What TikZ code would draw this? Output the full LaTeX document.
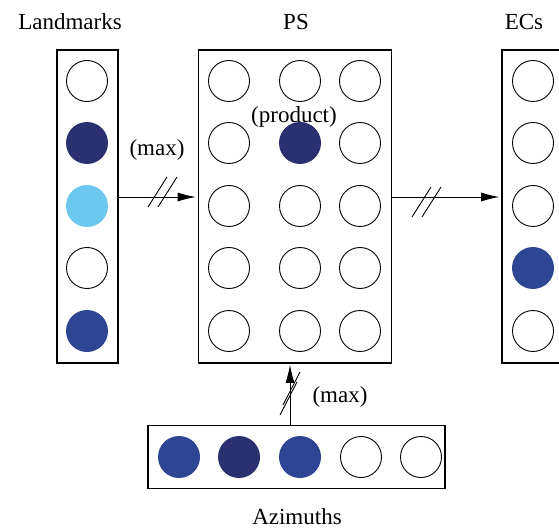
\documentclass[tikz,border=0pt]{standalone}
\usepackage{fontspec}
\setmainfont{Liberation Serif}
\usetikzlibrary{arrows.meta}
\definecolor{navy}{HTML}{2B3070}
\definecolor{midblue}{HTML}{2E4593}
\definecolor{lightblue}{HTML}{6CC8EE}
\tikzset{
  unit/.style={circle,draw=black,line width=0.9pt,minimum size=41pt,inner sep=0pt},
  fillnavy/.style={unit,draw=none,fill=navy,minimum size=42pt},
  fillmid/.style={unit,draw=none,fill=midblue,minimum size=42pt},
  filllight/.style={unit,draw=none,fill=lightblue,minimum size=42pt},
  panel/.style={draw=black,line width=1.6pt,inner sep=0pt},
  lbl/.style={font=\fontsize{23}{27}\selectfont,inner sep=0pt},
  conn/.style={line width=0.9pt,-{Latex[length=18pt,width=9pt]}},
  slash/.style={line width=0.9pt}
}
\begin{document}
\begin{tikzpicture}[x=1pt,y=-1pt]
\clip (0,0) rectangle (559,529);
\fill[white] (0,0) rectangle (559,529);
% panels
\node[panel,minimum width=61pt,minimum height=313pt] (lm) at (87.5,206.5) {};
\node[panel,minimum width=193pt,minimum height=313pt] (ps) at (295,206.5) {};
\node[panel,minimum width=80pt,minimum height=313pt] (ec) at (542,206.5) {};
\node[panel,minimum width=297pt,minimum height=63pt] (az) at (296.5,457) {};
% landmarks
\node[unit] (l1) at (87,81) {};
\node[fillnavy] (l2) at (87,143) {};
\node[filllight] (l3) at (87,206) {};
\node[unit] (l4) at (87,268) {};
\node[fillmid] (l5) at (87,331) {};
% PS grid
\foreach \r/\y in {1/81,2/143,3/206,4/268,5/331}{
  \node[unit] (p\r a) at (229,\y) {};
  \node[unit] (p\r c) at (360,\y) {};
}
\node[unit] (p1b) at (300,81) {};
\node[fillnavy] (p2b) at (300,143) {};
\node[unit] (p3b) at (300,206) {};
\node[unit] (p4b) at (300,268) {};
\node[unit] (p5b) at (300,331) {};
% ECs
\node[unit] (e1) at (533,81) {};
\node[unit] (e2) at (533,143) {};
\node[unit] (e3) at (533,206) {};
\node[fillmid] (e4) at (533,268) {};
\node[unit] (e5) at (533,331) {};
% Azimuths
\node[fillmid] (a1) at (179,457) {};
\node[fillnavy] (a2) at (239,457) {};
\node[fillmid] (a3) at (300,457) {};
\node[unit] (a4) at (361,457) {};
\node[unit] (a5) at (421,457) {};
% labels
\node[lbl] (tlm) at (70,22) {Landmarks};
\node[lbl] (tps) at (296,22) {PS};
\node[lbl] (tec) at (524,22) {ECs};
\node[lbl] (taz) at (297,517) {Azimuths};
\node[lbl] (tprod) at (294,117) {(product)};
\node[lbl] (tmax1) at (157,150) {(max)};
\node[lbl] (tmax2) at (340,397) {(max)};
% connectors
\coordinate (h) at (0,197);
\coordinate (v) at (290,0);
\draw[conn,shorten >=2pt] (lm.east |- h) -- (ps.west |- h);
\draw[conn,shorten >=2pt] (ps.east |- h) -- (ec.west |- h);
\draw[conn,shorten >=1pt] (az.north -| v) -- (ps.south -| v);
% slashes
\foreach \dx in {0,10}{
  \draw[slash] (148+\dx,207) -- (167+\dx,177);
  \draw[slash] (412+\dx,217) -- (431+\dx,187);
}
\draw[slash] (280,415) -- (297,382);
\draw[slash] (283,405) -- (300,372);
\end{tikzpicture}
\end{document}
